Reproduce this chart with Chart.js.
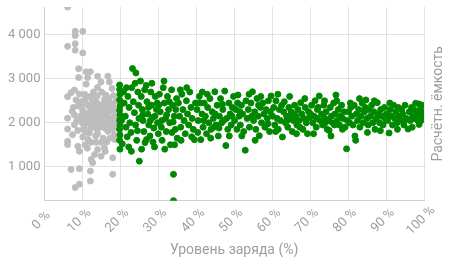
<!DOCTYPE html>
<html>
<head>
<meta charset="utf-8">
<script src="https://cdn.jsdelivr.net/npm/chart.js@4"></script>
<style>
html,body{margin:0;padding:0;background:#fff;}
#wrap{width:450px;height:263px;}
</style>
</head>
<body>
<div id="wrap"><canvas id="c"></canvas></div>
<script>
const xTitle = 'Уровень заряда (%)';
const yTitle = 'Расчётн. ёмкость';
const xTickValues = [0,10,20,30,40,50,60,70,80,90,100];
const yTickValues = [1000,2000,3000,4000];
const yMin = 227, yMax = 4636;

// [charge %, capacity] below 20 %
const lowChargePoints = [
[6.1,4636],[8.1,4083],[10.1,4083],[8.1,3986],[6.1,3740],[8.1,3800],[8.1,3650],[10.1,3590],[9.0,3230],[11.0,3160],[12.1,3160],[14.0,3060],[9.0,3030],[11.4,3030],[16.7,3060],[14.9,2930],[17.1,2930],[11.0,2880],[14.0,2805],[7.9,2745],[7.0,2684],[6.1,2594],[9.2,2655],[11.8,2594],[16.2,2632],[15.8,2535],[13.2,2520],[8.3,2520],[10.3,2445],[17.5,2445],[14.5,2385],[11.8,2368],[8.9,2385],[15.8,2332],[13.2,2293],[18.4,2293],[10.5,2220],[12.3,2180],[7.9,2180],[14.9,2180],[6.1,2106],[17.1,2106],[9.2,2068],[11.4,2052],[13.6,2030],[15.8,2030],[18.4,1993],[7.9,1955],[10.5,1932],[12.7,1917],[14.9,1903],[6.1,1857],[8.8,1826],[16.7,1804],[11.8,1768],[14.0,1752],[7.4,1729],[18.4,1729],[10.1,1677],[6.1,1578],[6.1,1503],[12.3,1555],[13.6,1555],[14.9,1555],[8.8,1465],[15.8,1428],[14.0,1390],[9.2,1352],[13.2,1277],[14.9,1239],[18.0,1203],[12.3,1165],[12.7,1090],[7.0,939],[9.2,955],[12.1,901],[18.0,826],[12.1,675],[9.2,600],[8.1,526],
[10.8,2560],[12.6,2480],[13.9,2610],[15.1,2700],[16.9,2560],[18.2,2620],[17.8,2780],[12.9,2700],[10.0,2300],[11.2,2420],[12.0,2250],[12.9,2390],[13.8,2460],[14.6,2290],[15.4,2420],[16.3,2330],[17.2,2250],[18.0,2400],[10.9,2120],[11.7,2010],[12.5,2080],[13.3,2150],[14.1,2240],[15.0,2080],[15.9,2170],[16.5,2000],[17.6,2060],[18.6,2150],[10.2,1850],[11.0,1790],[12.1,1860],[13.0,1960],[13.9,1850],[14.4,1990],[15.3,1930],[16.1,1870],[17.0,1950],[17.8,1860],[18.8,1900],[9.6,2160],[9.9,2000],[8.5,2050],[7.3,2260],[9.6,2480],[10.6,2650],[7.6,2350],[13.5,1700],[15.5,1650],[16.4,1560],[17.3,1650],[11.5,1620],[10.7,1500],[18.9,2500],[18.5,1620],[16.0,1350],[11.3,1420],[17.7,2340],[12.4,1970],[14.3,2100],[15.6,2250],[13.1,2580],[16.6,2420]
];

// [charge %, capacity] from 20 %
const normalChargePoints = [
[19.8,2860],[19.8,2760],[19.9,2650],[19.8,2520],[19.9,2380],[19.8,2280],[19.9,2180],[19.8,2060],[19.9,1950],[19.8,1850],[19.9,1720],[19.8,1600],[19.9,1400],[20.5,1520],[20.8,2700],[21.0,2450],[21.3,2150],[21.5,1900],[21.8,1680],[22.0,2600],[22.3,2350],[22.5,2000],[22.8,1780],[23.2,3235],[23.0,2800],[23.4,2480],[23.7,2230],[24.1,3135],[24.0,1950],[24.3,1600],[24.6,2700],[24.8,2400],[25.0,1127],[24.9,2100],[22.2,1450],[21.6,2800],[20.3,2050],[23.9,2900],[22.9,1350],[24.5,1820],
[25.3,2950],[25.5,2600],[25.8,2300],[26.0,2050],[26.2,1800],[26.5,1550],[26.8,2850],[27.0,2480],[27.2,2200],[27.5,1950],[27.8,1700],[28.0,2700],[28.2,2400],[28.5,2120],[28.8,1880],[29.0,1450],[29.2,2600],[29.5,2300],[29.8,2000],[30.0,1750],[25.6,1400],[26.4,2750],[27.4,2350],[28.3,2900],[29.1,2150],[29.7,2450],[26.9,1620],[28.6,1560],[27.9,2050],[25.9,2180],
[30.3,2650],[30.5,2250],[30.8,1900],[31.0,1600],[31.3,2800],[31.6,2450],[31.9,2100],[32.1,1800],[32.4,2600],[32.7,2300],[33.0,2000],[33.2,1500],[33.5,2750],[33.8,2400],[34.0,826],[34.0,227],[34.2,2150],[34.5,1850],[34.8,2550],[35.0,1650],[30.9,2050],[31.7,1400],[32.9,2480],[33.6,1780],[34.6,2300],[30.1,2400],[31.5,2950],[32.2,2180],[33.9,2020],[34.3,1500],
[35.3,2450],[35.6,2150],[35.9,1900],[36.2,2650],[36.5,2300],[36.8,2050],[37.1,1750],[37.4,2500],[37.7,2200],[38.0,1950],[38.3,2700],[38.6,2350],[38.9,2100],[39.2,1850],[39.5,1616],[39.8,2450],[36.0,1600],[37.5,2800],[38.8,1680],[35.8,2750],
[40.2,2300],[40.5,2050],[40.8,2600],[41.2,1616],[41.5,2200],[41.8,1900],[42.1,2450],[42.4,2150],[42.7,1750],[43.0,2350],[43.3,2000],[43.6,2550],[43.9,1850],[44.2,2250],[44.5,2100],[44.9,2706],[45.2,1950],[45.5,2400],[45.8,1700],[46.1,2150],[46.4,2550],[46.7,2000],[47.0,2300],[47.5,2722],[47.8,1480],[48.0,2100],[48.3,1850],[48.6,2450],[48.9,2200],[49.2,1950],[49.5,2350],[49.8,2600],[40.4,1780],[41.0,2450],[42.9,2650],[43.8,1650],[44.7,1900],[46.0,1880],[47.2,2050],[48.7,1700],[49.4,2150],[45.0,2200],[42.0,2050],[46.9,2420],[41.6,2700],
[50.1,2050],[50.4,2300],[50.7,1850],[51.0,2632],[51.3,2150],[51.6,1950],[51.9,2400],[52.2,2200],[52.5,1800],[52.9,1375],[53.1,2500],[53.4,2100],[53.7,2300],[54.0,1900],[54.4,2450],[54.8,2706],[55.1,2050],[55.4,2250],[55.7,1850],[56.0,2550],[56.3,2150],[56.6,1706],[56.9,2350],[57.2,2000],[57.5,2450],[57.8,2200],[58.1,1900],[58.4,2300],[58.7,2100],[59.0,2500],[59.3,1800],[59.7,2610],[50.9,2450],[52.0,1700],[53.9,2650],[55.5,1600],[57.0,2600],[58.9,1980],[51.5,2250],[54.6,2150],[56.4,2400],[59.5,2250],
[60.1,2150],[60.4,2350],[60.7,1950],[61.0,2500],[61.3,2100],[61.6,1850],[61.9,2300],[62.2,2050],[62.7,1677],[63.0,2250],[63.2,2480],[63.5,2000],[63.8,2150],[64.1,1900],[64.4,2350],[64.7,2100],[65.0,2250],[65.3,1800],[65.6,2050],[65.9,2400],[66.2,2150],[66.5,1950],[66.8,2300],[67.1,2050],[67.5,2458],[67.8,2200],[68.1,1850],[68.4,2100],[68.7,2350],[69.0,2000],[69.3,1752],[69.6,2250],[61.5,2650],[64.6,2600],[66.4,1750],[68.6,2550],[62.5,2400],[63.9,2050],[65.7,2200],[67.3,1900],[69.8,2120],[60.9,1800],
[70.1,2200],[70.4,2400],[70.7,2000],[71.0,2150],[71.3,2500],[71.6,1900],[71.9,2300],[72.4,2610],[72.7,2050],[73.0,2200],[73.3,1950],[73.6,2400],[73.9,2100],[74.2,2250],[74.5,1850],[74.8,2050],[75.0,1826],[75.3,2350],[75.6,2150],[75.9,2000],[76.2,2450],[76.5,2200],[76.8,2632],[77.1,2050],[77.4,2300],[77.7,1950],[78.0,2150],[78.3,2400],[78.6,2100],[78.9,2250],[79.2,1900],[79.6,1406],[79.8,2050],[70.9,1750],[72.1,2350],[73.8,2500],[75.5,1700],[77.0,2500],[78.5,1850],[74.0,2000],[71.8,2100],[76.4,1950],
[80.1,2250],[80.4,2000],[80.7,2350],[81.0,2150],[81.3,1950],[81.6,2400],[82.0,1600],[82.2,2200],[82.5,2050],[82.8,2300],[83.1,1900],[83.4,2150],[83.7,2450],[84.0,2000],[84.3,2250],[84.7,2520],[85.0,2100],[85.3,1950],[85.6,2300],[85.9,2150],[86.2,2400],[86.5,2000],[86.8,2250],[87.1,1850],[87.4,2100],[87.7,2458],[88.0,2200],[88.3,2000],[88.6,2300],[88.9,2150],[89.2,1950],[89.6,2350],[81.8,1700],[83.0,2550],[85.1,1780],[86.9,2500],[88.5,1820],[89.9,2080],[80.6,2450],[84.5,2350],
[90.1,2200],[90.4,2050],[90.8,1768],[91.1,2300],[91.4,2150],[91.7,1950],[92.0,2400],[92.3,2100],[92.6,2250],[92.9,2000],[93.2,2350],[93.5,2150],[93.8,2050],[94.1,2300],[94.4,2200],[94.7,1950],[95.0,2400],[95.3,2100],[95.8,1858],[96.1,2250],[96.4,2050],[96.7,2350],[97.0,2150],[97.3,2300],[97.8,2445],[98.1,2200],[98.4,2050],[98.7,2428],[98.7,1962],[99.0,2300],[99.3,2150],[99.5,2250],[99.6,2400],[91.0,2450],[93.0,1850],[94.9,2050],[96.9,1900],[97.5,2100],[99.2,2050]
];

const toXY = arr => arr.map(p => ({x: p[0], y: p[1]}));
const textColor = '#9e9e9e';
const gridColor = '#e2e2e2';
const fontFamily = 'Roboto, "Noto Sans", sans-serif';
const fmtThousands = v => String(v).replace(/\B(?=(\d{3})+(?!\d))/g, '\u00a0');
const fmtPercent = v => v + '\u00a0%';

// Draws the right-hand axis title (bottom-to-top) and centred, rotated x tick labels.
const axisText = {
  id: 'axisText',
  afterDraw(chart) {
    const ctx = chart.ctx, a = chart.chartArea, xs = chart.scales.x;
    ctx.save();
    ctx.fillStyle = textColor;
    ctx.textAlign = 'center';
    ctx.textBaseline = 'middle';
    ctx.font = '13px ' + fontFamily;
    xs.ticks.forEach(t => {
      ctx.save();
      ctx.translate(xs.getPixelForValue(t.value) - 3, a.bottom + 20);
      ctx.rotate(-Math.PI / 4);
      ctx.fillText(fmtPercent(t.value), 0, 0);
      ctx.restore();
    });
    ctx.translate(438, (a.top + a.bottom) / 2);
    ctx.rotate(-Math.PI / 2);
    ctx.font = '14px ' + fontFamily;
    ctx.fillText(yTitle, 0, 0);
    ctx.restore();
  }
};

new Chart(document.getElementById('c'), {
  type: 'scatter',
  data: {
    datasets: [
      {data: toXY(normalChargePoints), backgroundColor: '#008800', borderColor: '#008800', borderWidth: 1, pointRadius: 3, pointHoverRadius: 3},
      {data: toXY(lowChargePoints), backgroundColor: '#bdbdbd', borderColor: '#bdbdbd', borderWidth: 1, pointRadius: 3, pointHoverRadius: 3}
    ]
  },
  options: {
    responsive: true,
    maintainAspectRatio: false,
    animation: false,
    events: [],
    layout: {padding: {top: 0, right: 26, left: 4, bottom: 4}},
    plugins: {legend: {display: false}, tooltip: {enabled: false}},
    scales: {
      x: {
        type: 'linear', min: 0, max: 100,
        afterBuildTicks: s => { s.ticks = xTickValues.map(v => ({value: v})); },
        ticks: {color: 'rgba(0,0,0,0)', font: {family: fontFamily, size: 13}, maxRotation: 45, minRotation: 45, padding: 2, callback: v => fmtPercent(v)},
        grid: {color: gridColor, drawTicks: false},
        border: {color: '#d0d0d0'},
        title: {display: true, text: xTitle, color: textColor, font: {family: fontFamily, size: 14}, padding: {top: 2, bottom: 0}}
      },
      y: {
        type: 'linear', min: yMin, max: yMax,
        afterBuildTicks: s => { s.ticks = yTickValues.map(v => ({value: v})); },
        afterFit: s => { s.paddingTop = 7; },
        ticks: {color: textColor, font: {family: fontFamily, size: 13}, padding: 4, callback: v => fmtThousands(v)},
        grid: {color: gridColor, drawTicks: false},
        border: {color: '#d0d0d0'}
      }
    }
  },
  plugins: [axisText]
});
</script>
</body>
</html>
